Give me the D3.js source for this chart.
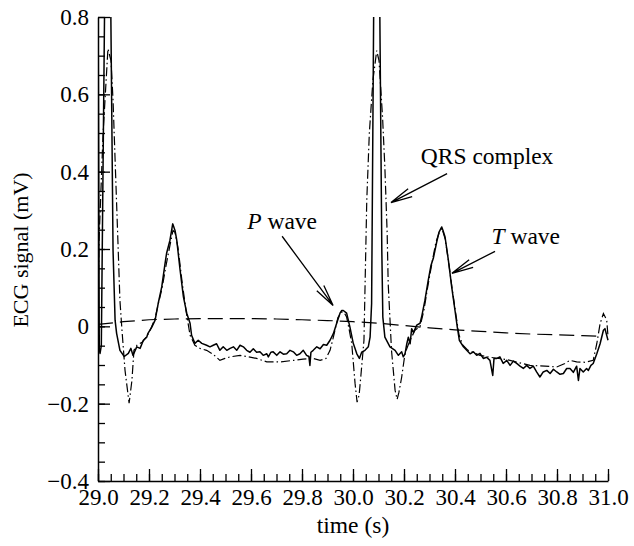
<!DOCTYPE html>
<html>
<head>
<meta charset="utf-8">
<script src="https://cdn.jsdelivr.net/npm/d3@7"></script>
<style>
  body { margin: 0; background: #fff; }
  text { font-family: "Liberation Serif", "Times New Roman", serif; }
</style>
</head>
<body>
<div id="ecg_chart"></div>
<script>
// measured ECG (solid); the QRS peaks run off the top of the frame
const measuredData = [
  [29.000, 0.90], [29.005, -0.06], [29.008, -0.07], [29.013, -0.05], [29.027, 0.90],
  [29.049, 0.90], [29.059, 0.196], [29.067, 0.016], [29.073, -0.018], [29.086, -0.062], [29.103, -0.078],
  [29.119, -0.070], [29.129, -0.057], [29.137, -0.075], [29.152, -0.053], [29.165, -0.057], [29.178, -0.036],
  [29.191, -0.028], [29.196, -0.018], [29.211, -0.002], [29.224, 0.016], [29.236, 0.059], [29.250, 0.102],
  [29.263, 0.163], [29.269, 0.189], [29.282, 0.222], [29.293, 0.265], [29.302, 0.248], [29.309, 0.222],
  [29.322, 0.145], [29.335, 0.076], [29.348, 0.034], [29.361, 0.008], [29.367, -0.023], [29.380, -0.044],
  [29.393, -0.036], [29.407, -0.044], [29.426, -0.049], [29.439, -0.053], [29.452, -0.049], [29.465, -0.045],
  [29.478, -0.062], [29.491, -0.053], [29.505, -0.062], [29.518, -0.057], [29.531, -0.053], [29.544, -0.062],
  [29.557, -0.049], [29.570, -0.053], [29.583, -0.062], [29.596, -0.067], [29.609, -0.058], [29.622, -0.067],
  [29.635, -0.066], [29.648, -0.075], [29.662, -0.071], [29.668, -0.079], [29.678, -0.067], [29.687, -0.066],
  [29.701, -0.075], [29.714, -0.066], [29.727, -0.072], [29.740, -0.071], [29.753, -0.062], [29.766, -0.066],
  [29.779, -0.075], [29.792, -0.071], [29.805, -0.062], [29.818, -0.075], [29.827, -0.078], [29.831, -0.101],
  [29.835, -0.067], [29.844, -0.062], [29.858, -0.053], [29.871, -0.058], [29.884, -0.047], [29.897, -0.049],
  [29.910, -0.036], [29.923, -0.019], [29.936, 0.008], [29.949, 0.034], [29.956, 0.041], [29.962, 0.041],
  [29.975, 0.034], [29.988, -0.002], [30.001, -0.044], [30.015, -0.071], [30.025, -0.083], [30.034, -0.067],
  [30.047, -0.062], [30.060, -0.053], [30.067, -0.028], [30.073, 0.059], [30.082, 0.90],
  [30.104, 0.90], [30.113, 0.196], [30.117, 0.024], [30.125, -0.028], [30.145, -0.053],
  [30.165, -0.062], [30.178, -0.075], [30.191, -0.066], [30.197, -0.079], [30.204, -0.071], [30.211, -0.045],
  [30.217, -0.028], [30.224, -0.045], [30.230, -0.006], [30.237, -0.016], [30.250, 0.003], [30.263, 0.008],
  [30.269, 0.024], [30.282, 0.067], [30.295, 0.119], [30.306, 0.158], [30.315, 0.176], [30.328, 0.217],
  [30.337, 0.243], [30.348, 0.257], [30.353, 0.248], [30.361, 0.231], [30.374, 0.171], [30.387, 0.102],
  [30.400, 0.041], [30.409, -0.002], [30.417, -0.036], [30.433, -0.053], [30.446, -0.062], [30.459, -0.071],
  [30.472, -0.066], [30.485, -0.075], [30.498, -0.070], [30.511, -0.083], [30.524, -0.080], [30.537, -0.088],
  [30.548, -0.127], [30.553, -0.083], [30.564, -0.083], [30.576, -0.079], [30.589, -0.096], [30.603, -0.088],
  [30.616, -0.101], [30.629, -0.090], [30.642, -0.096], [30.655, -0.103], [30.668, -0.109], [30.681, -0.101],
  [30.694, -0.109], [30.707, -0.103], [30.720, -0.118], [30.733, -0.131], [30.746, -0.118], [30.760, -0.114],
  [30.773, -0.122], [30.786, -0.111], [30.799, -0.118], [30.812, -0.124], [30.825, -0.122], [30.838, -0.109],
  [30.851, -0.109], [30.864, -0.119], [30.877, -0.103], [30.884, -0.140], [30.890, -0.109], [30.903, -0.118],
  [30.916, -0.109], [30.923, -0.114], [30.933, -0.101], [30.942, -0.096], [30.956, -0.071], [30.969, -0.045],
  [30.982, -0.010], [30.988, -0.006], [31.000, -0.036]
];

// model fit (dash-dot)
const modelData = [
  [29.000, 0.05], [29.004, 0.22], [29.020, 0.50], [29.039, 0.718], [29.051, 0.687], [29.059, 0.584],
  [29.078, 0.222], [29.086, 0.067], [29.094, -0.010], [29.106, -0.114], [29.122, -0.199], [29.133, -0.140],
  [29.141, -0.062], [29.153, -0.049], [29.173, -0.041], [29.192, -0.026], [29.208, -0.005], [29.224, 0.021],
  [29.235, 0.054], [29.251, 0.098], [29.267, 0.158], [29.282, 0.209], [29.294, 0.248], [29.302, 0.243],
  [29.314, 0.202], [29.329, 0.119], [29.345, 0.041], [29.361, -0.023], [29.380, -0.049], [29.400, -0.057],
  [29.426, -0.062], [29.451, -0.072], [29.478, -0.088], [29.498, -0.083], [29.518, -0.079], [29.557, -0.075],
  [29.583, -0.078], [29.622, -0.083], [29.662, -0.092], [29.714, -0.092], [29.766, -0.088], [29.804, -0.085],
  [29.844, -0.083], [29.871, -0.088], [29.894, -0.083], [29.910, -0.062], [29.923, -0.028], [29.941, 0.023],
  [29.956, 0.037], [29.965, 0.036], [29.975, 0.024], [29.984, -0.005], [29.995, -0.044], [30.008, -0.147],
  [30.016, -0.196], [30.024, -0.178], [30.031, -0.127], [30.043, -0.036], [30.054, 0.326], [30.064, 0.499],
  [30.078, 0.636], [30.093, 0.713], [30.102, 0.687], [30.116, 0.540], [30.125, 0.411], [30.134, 0.240],
  [30.138, 0.111], [30.151, -0.062], [30.165, -0.165], [30.173, -0.189], [30.180, -0.171], [30.191, -0.131],
  [30.204, -0.070], [30.216, -0.049], [30.224, -0.036], [30.243, -0.010], [30.263, 0.000], [30.278, 0.041],
  [30.294, 0.106], [30.310, 0.165], [30.325, 0.217], [30.341, 0.248], [30.349, 0.253], [30.361, 0.227],
  [30.373, 0.176], [30.388, 0.101], [30.404, 0.028], [30.416, -0.023], [30.431, -0.049], [30.451, -0.062],
  [30.471, -0.067], [30.498, -0.075], [30.537, -0.080], [30.603, -0.086], [30.694, -0.101], [30.753, -0.103],
  [30.799, -0.105], [30.831, -0.096], [30.851, -0.088], [30.877, -0.092], [30.910, -0.093], [30.942, -0.088],
  [30.956, -0.045], [30.969, 0.007], [30.982, 0.033], [30.995, 0.016], [31.000, -0.026]
];

// baseline wander (dashed)
const baselineData = [
  [29.0, 0.005], [29.1, 0.012], [29.2, 0.017], [29.3, 0.019], [29.4, 0.020], [29.5, 0.020], [29.6, 0.020],
  [29.7, 0.019], [29.8, 0.017], [29.9, 0.015], [30.0, 0.012], [30.1, 0.008], [30.2, 0.002], [30.3, -0.004],
  [30.4, -0.009], [30.5, -0.013], [30.6, -0.017], [30.7, -0.020], [30.8, -0.022], [30.9, -0.024], [30.98, -0.026]
];

const xTickValues = [29.0, 29.2, 29.4, 29.6, 29.8, 30.0, 30.2, 30.4, 30.6, 30.8, 31.0];
const xTickLabels = ["29.0", "29.2", "29.4", "29.6", "29.8", "30.0", "30.2", "30.4", "30.6", "30.8", "31.0"];
const yTickValues = [-0.4, -0.2, 0, 0.2, 0.4, 0.6, 0.8];
const yTickLabels = ["\u22120.4", "\u22120.2", "0", "0.2", "0.4", "0.6", "0.8"];

// label text (italic part + rest), text anchor point, arrow start, arrow tip
const annotations = [
  {italic: "P", rest: " wave", at: [29.585, 0.253], from: [29.722, 0.233], to: [29.922, 0.054]},
  {italic: "", rest: "QRS complex", at: [30.266, 0.421], from: [30.369, 0.395], to: [30.149, 0.320]},
  {italic: "T", rest: " wave", at: [30.543, 0.214], from: [30.557, 0.194], to: [30.388, 0.137]}
];

function draw_ecg() {
  const margin = {top: 17, right: 26, bottom: 65, left: 98},
      width = 634 - margin.left - margin.right,
      height = 546 - margin.top - margin.bottom;

  const svg = d3.select("#ecg_chart")
    .append("svg")
      .attr("width", 634)
      .attr("height", 546)
    .append("g")
      .attr("transform", `translate(${margin.left}, ${margin.top})`);

  const x = d3.scaleLinear().domain([29, 31]).range([0, width]);
  const y = d3.scaleLinear().domain([-0.4, 0.8]).range([height, 0]);

  svg.append("clipPath").attr("id", "plotclip")
    .append("rect").attr("x", 0).attr("y", 0).attr("width", width + 2).attr("height", height + 2);

  // minor ticks, pointing inward
  svg.append("g")
    .attr("transform", `translate(0, ${height})`)
    .call(d3.axisBottom(x).ticks(40).tickSize(-7).tickSizeOuter(0).tickFormat(""))
    .call(g => g.select(".domain").remove());
  svg.append("g")
    .call(d3.axisLeft(y).ticks(24).tickSize(-7).tickSizeOuter(0).tickFormat(""))
    .call(g => g.select(".domain").remove());

  // major ticks + labels
  const xAxis = svg.append("g")
    .attr("transform", `translate(0, ${height})`)
    .call(d3.axisBottom(x).tickValues(xTickValues).tickSize(-12).tickSizeOuter(0).tickPadding(8)
      .tickFormat((d, i) => xTickLabels[i]));
  const yAxis = svg.append("g")
    .call(d3.axisLeft(y).tickValues(yTickValues).tickSize(-12).tickSizeOuter(0).tickPadding(9)
      .tickFormat((d, i) => yTickLabels[i]));

  [xAxis, yAxis].forEach(a => {
    a.selectAll("text").style("font-size", "23px").style("font-family", "'Liberation Serif', serif").attr("fill", "#000");
    a.select(".domain").attr("stroke", "#000").attr("stroke-width", 1.5);
  });
  svg.selectAll(".tick line").attr("stroke", "#000").attr("stroke-width", 1.3);

  // axis titles
  svg.append("text")
    .attr("x", width / 2)
    .attr("y", height + 52)
    .style("text-anchor", "middle")
    .style("font-size", "23.5px")
    .text("time (s)");

  svg.append("text")
    .attr("transform", "rotate(-90)")
    .attr("x", 0 - (y(0.2) + 1))
    .attr("y", 28 - margin.left)
    .style("text-anchor", "middle")
    .style("font-size", "22px")
    .text("ECG signal (mV)");

  const line = d3.line()
    .x(d => x(d[0]))
    .y(d => y(d[1]));

  const curves = svg.append("g").attr("clip-path", "url(#plotclip)");

  curves.append("path")
    .attr("d", line(baselineData))
    .attr("fill", "none")
    .attr("stroke", "#000")
    .attr("stroke-width", 1.2)
    .attr("stroke-dasharray", "15,7");

  curves.append("path")
    .attr("d", line(modelData))
    .attr("fill", "none")
    .attr("stroke", "#000")
    .attr("stroke-width", 1.2)
    .attr("stroke-dasharray", "9,3,1.5,3");

  curves.append("path")
    .attr("d", line(measuredData))
    .attr("fill", "none")
    .attr("stroke", "#000")
    .attr("stroke-width", 1.5)
    .attr("stroke-linejoin", "round");

  // annotations
  annotations.forEach(a => {
    const t = svg.append("text")
      .attr("x", x(a.at[0]))
      .attr("y", y(a.at[1]))
      .style("font-size", "23.5px");
    if (a.italic) t.append("tspan").style("font-style", "italic").text(a.italic);
    t.append("tspan").text(a.rest);

    const x0 = x(a.from[0]), y0 = y(a.from[1]), x1 = x(a.to[0]), y1 = y(a.to[1]);
    const ang = Math.atan2(y0 - y1, x0 - x1);
    const len = 22, spread = 0.2;
    const b1 = [x1 + len * Math.cos(ang - spread), y1 + len * Math.sin(ang - spread)];
    const b2 = [x1 + len * Math.cos(ang + spread), y1 + len * Math.sin(ang + spread)];
    svg.append("path")
      .attr("d", `M${x0},${y0}L${x1},${y1}M${b1[0]},${b1[1]}L${x1},${y1}L${b2[0]},${b2[1]}`)
      .attr("fill", "none")
      .attr("stroke", "#000")
      .attr("stroke-width", 1.3);
  });
}

draw_ecg();
</script>
</body>
</html>
